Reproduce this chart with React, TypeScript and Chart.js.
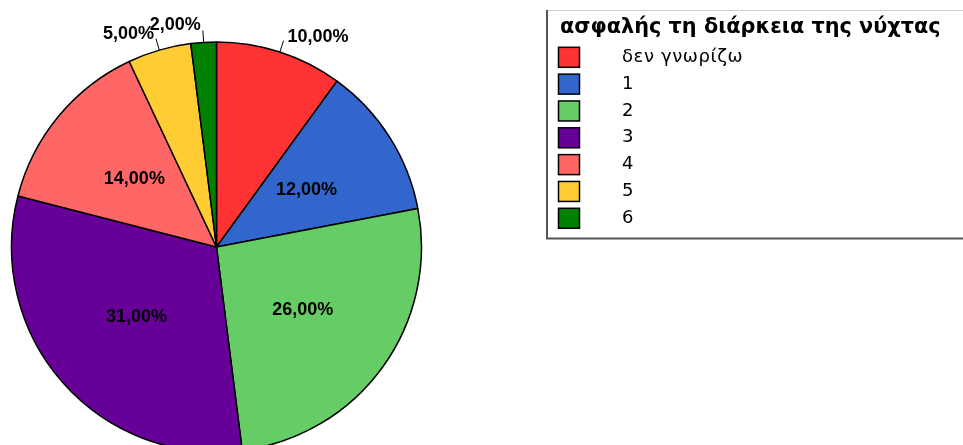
import React, { useEffect, useRef } from "react";
import { Chart, registerables } from "chart.js";

Chart.register(...registerables);

const legendTitle = "ασφαλής τη διάρκεια της νύχτας";
const categories = ["δεν γνωρίζω", "1", "2", "3", "4", "5", "6"];
const percentages = [10, 12, 26, 31, 14, 5, 2];
const sliceColors = ["#FF3333", "#3366CC", "#66CC66", "#660099", "#FF6666", "#FFCC33", "#008000"];

const FONT = '"Liberation Sans", Arial, sans-serif';
const LEGEND_FONT = '"DejaVu Sans", Verdana, sans-serif';

const fmt = (v: number) => v.toFixed(2).replace(".", ",") + "%";

const labelPlugin = {
  id: "sliceLabels",
  afterDatasetsDraw(chart: any) {
    const ctx = chart.ctx;
    const meta = chart.getDatasetMeta(0);
    const values = chart.data.datasets[0].data as number[];
    ctx.save();
    ctx.font = `bold 18px ${FONT}`;
    ctx.fillStyle = "#000";
    meta.data.forEach((arc: any, i: number) => {
      const { x, y, startAngle, endAngle, outerRadius } = arc.getProps(
        ["x", "y", "startAngle", "endAngle", "outerRadius"],
        true
      );
      const mid = (startAngle + endAngle) / 2;
      const v = values[i];
      const text = fmt(v);
      if (v >= 12) {
        const d = outerRadius * 0.52;
        ctx.textAlign = "center";
        ctx.textBaseline = "middle";
        ctx.fillText(text, x + Math.cos(mid) * d, y + Math.sin(mid) * d);
      } else {
        const r0 = outerRadius;
        const r1 = outerRadius + 12;
        const sx = x + Math.cos(mid) * r0;
        const sy = y + Math.sin(mid) * r0;
        const ex = x + Math.cos(mid) * r1;
        const ey = y + Math.sin(mid) * r1;
        ctx.strokeStyle = "#000";
        ctx.lineWidth = 1;
        ctx.beginPath();
        ctx.moveTo(sx, sy);
        ctx.lineTo(ex, ey);
        ctx.stroke();
        ctx.textBaseline = "middle";
        if (Math.cos(mid) >= 0) {
          ctx.textAlign = "left";
          ctx.fillText(text, ex + 4, ey - 4);
        } else {
          ctx.textAlign = "right";
          ctx.fillText(text, ex - 2, ey - 5);
        }
      }
    });
    ctx.restore();
  },
};

const legendPlugin = {
  id: "boxLegend",
  afterDraw(chart: any) {
    const ctx = chart.ctx;
    const labels = chart.data.labels as string[];
    const colors = chart.data.datasets[0].backgroundColor as string[];
    ctx.save();
    // box
    ctx.strokeStyle = "#cfcfcf";
    ctx.lineWidth = 1;
    ctx.beginPath();
    ctx.moveTo(546, 10.5);
    ctx.lineTo(963, 10.5);
    ctx.stroke();
    ctx.strokeStyle = "#555";
    ctx.lineWidth = 2;
    ctx.beginPath();
    ctx.moveTo(547, 10);
    ctx.lineTo(547, 239);
    ctx.moveTo(546, 238.5);
    ctx.lineTo(963, 238.5);
    ctx.stroke();
    // title
    ctx.fillStyle = "#000";
    ctx.font = `bold 20.8px ${LEGEND_FONT}`;
    ctx.textAlign = "left";
    ctx.textBaseline = "middle";
    ctx.fillText(legendTitle, 560, 28);
    // items
    ctx.font = `18px ${LEGEND_FONT}`;
    ctx.letterSpacing = "0.6px";
    labels.forEach((lab, i) => {
      const cy = 57.3 + i * 26.83;
      ctx.fillStyle = colors[i];
      ctx.fillRect(558.5, cy - 10, 21, 20);
      ctx.strokeStyle = "#000";
      ctx.lineWidth = 1.5;
      ctx.strokeRect(558.5, cy - 10, 21, 20);
      ctx.fillStyle = "#000";
      ctx.fillText(lab, 622, cy);
    });
    ctx.restore();
  },
};

export default function App() {
  const ref = useRef<HTMLCanvasElement | null>(null);
  useEffect(() => {
    if (!ref.current) return;
    const chart = new Chart(ref.current, {
      type: "pie",
      data: {
        labels: categories,
        datasets: [
          {
            data: percentages,
            backgroundColor: sliceColors,
            borderColor: "#000",
            borderWidth: 1.5,
            clip: false as any,
          } as any,
        ],
      },
      options: {
        responsive: false,
        animation: false,
        devicePixelRatio: 1,
        radius: 205,
        layout: { padding: { left: 0, right: 530, top: 49, bottom: 0 } },
        plugins: {
          legend: { display: false },
          tooltip: { enabled: false },
        },
      } as any,
      plugins: [labelPlugin, legendPlugin],
    });
    return () => chart.destroy();
  }, []);
  return (
    <div style={{ position: "fixed", left: 0, top: 0, width: 963, height: 445, background: "#fff" }}>
      <canvas ref={ref} width={963} height={445} style={{ width: 963, height: 445 }} />
    </div>
  );
}
